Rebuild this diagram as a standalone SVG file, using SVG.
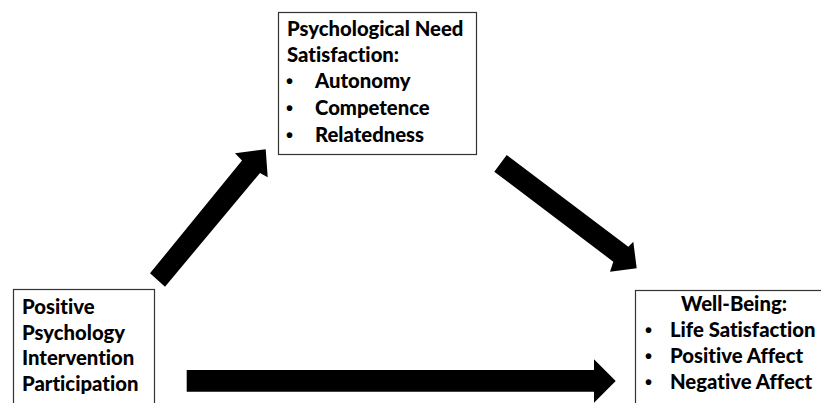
<svg xmlns="http://www.w3.org/2000/svg" width="821" height="403" viewBox="0 0 821 403">
<style>
.box{fill:#fff;stroke:#333;stroke-width:1.2}
.t{font-family:Lato,"Liberation Sans",sans-serif;font-weight:900;font-size:20.3px;fill:#000;font-variant-ligatures:none;font-feature-settings:"liga" 0}
.b{font-family:"Liberation Sans",sans-serif;font-weight:bold;font-size:20px;fill:#000}
.arrow{fill:#000}
</style>
<rect width="821" height="403" fill="#fff"/>
<g id="connectors">
<polygon class="arrow" points="150,273.3 242,160.5 235,153.3 265.7,149.3 267.7,177.3 260,173 165,286.7"/>
<polygon class="arrow" points="506.7,155 628.3,246.7 633.3,241.7 636.7,268.3 610,271.7 613.3,261.7 494.3,171.7"/>
<polygon class="arrow" points="186.7,370 594,370 594,359.3 615.7,381 594,402.7 594,391.7 186.7,391.7"/>
</g>
<g id="need">
<rect class="box" x="278.5" y="12.5" width="198" height="142"/>
<text class="t" x="287" y="36">Psychological Need</text>
<text class="t" x="287" y="62">Satisfaction:</text>
<text class="b" x="286" y="88">•</text>
<text class="t" x="315" y="88">Autonomy</text>
<text class="b" x="286" y="115">•</text>
<text class="t" x="315" y="115">Competence</text>
<text class="b" x="286" y="142">•</text>
<text class="t" x="315" y="142">Relatedness</text>
</g>
<g id="ppi">
<rect class="box" x="13.5" y="289.5" width="141" height="130"/>
<text class="t" x="22" y="314">Positive</text>
<text class="t" x="22" y="340">Psychology</text>
<text class="t" x="22" y="365">Intervention</text>
<text class="t" x="22" y="391">Participation</text>
</g>
<g id="wellbeing">
<rect class="box" x="635.5" y="290.5" width="200" height="130"/>
<text class="t" x="734" y="311" text-anchor="middle">Well-Being:</text>
<text class="b" x="645" y="337">•</text>
<text class="t" x="670" y="337">Life Satisfaction</text>
<text class="b" x="645" y="363">•</text>
<text class="t" x="670" y="363">Positive Affect</text>
<text class="b" x="645" y="389">•</text>
<text class="t" x="670" y="389">Negative Affect</text>
</g>
</svg>
